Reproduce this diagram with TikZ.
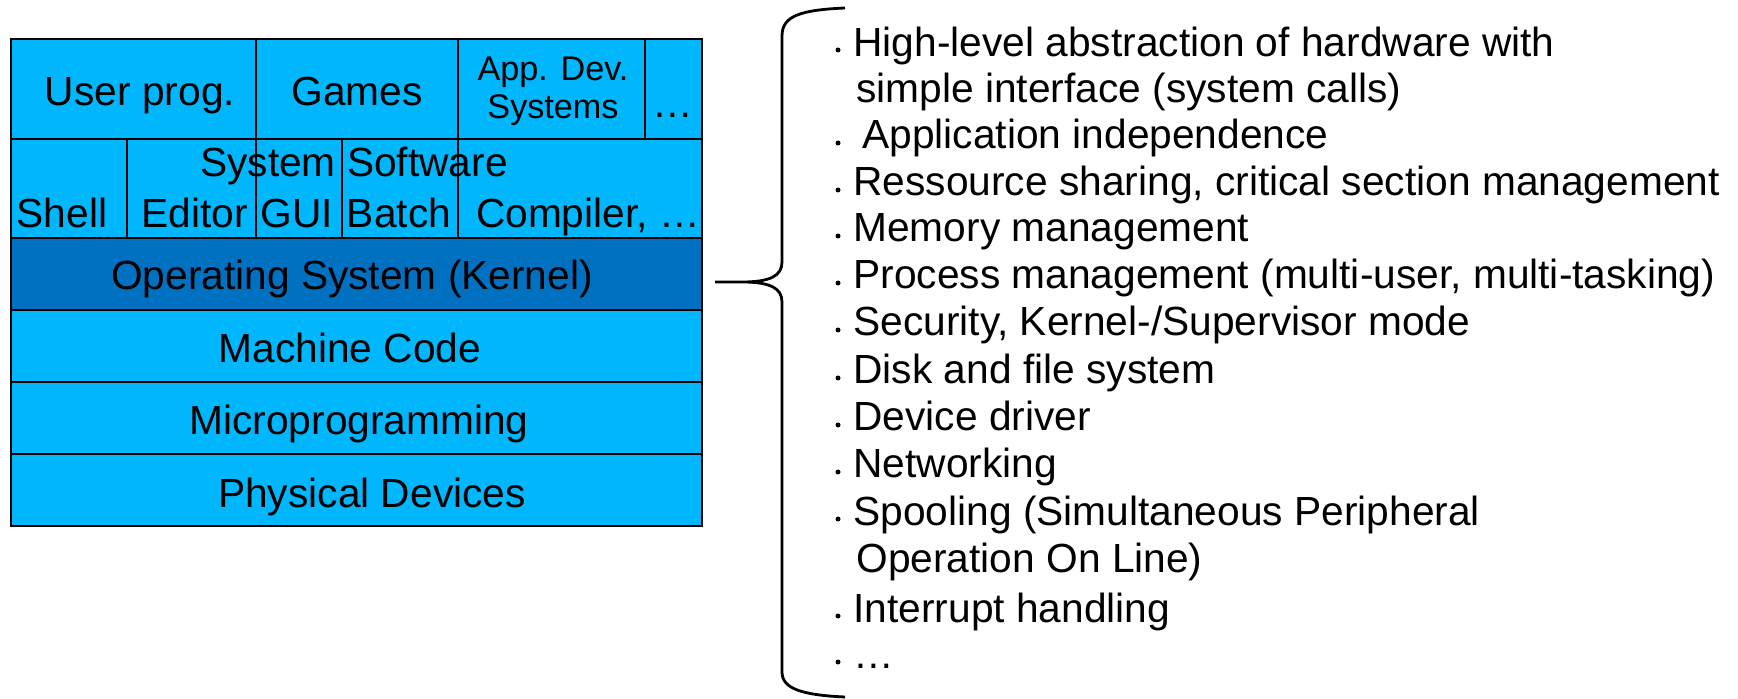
\documentclass[tikz,border=0pt]{standalone}
\usepackage{fontspec}
\setmainfont{Liberation Sans}
\definecolor{lightblu}{RGB}{0,182,252}
\definecolor{darkblu}{RGB}{0,112,192}
\begin{document}
\begin{tikzpicture}[x=0.5pt,y=-0.5pt,
  cell/.style={draw=black, line width=1.3pt, fill=lightblu},
  kcell/.style={draw=black, line width=1.3pt, fill=darkblu},
  lbl/.style={anchor=base, inner sep=0pt, font=\fontsize{20.35}{24}\selectfont},
  slbl/.style={anchor=base, inner sep=0pt, font=\fontsize{17.1}{20}\selectfont},
  item/.style={anchor=base west, inner sep=0pt, font=\fontsize{20.35}{24}\selectfont},
  dot/.style={circle, fill=black, inner sep=0pt, minimum size=2.5pt},
  bracepath/.style={draw=black, line width=1.4pt}]
\useasboundingbox (0,0) rectangle (1738,699);
% row 1
\path[cell] (11,39) rectangle (256,139);
\path[cell] (256,39) rectangle (458,139);
\path[cell] (458,39) rectangle (645,139);
\path[cell] (645,39) rectangle (702,139);
% row 2
\path[cell] (11,139) rectangle (127,238);
\path[cell] (127,139) rectangle (256,238);
\path[cell] (256,139) rectangle (342,238);
\path[cell] (342,139) rectangle (458,238);
\path[cell] (458,139) rectangle (702,238);
% lower rows
\path[kcell] (11,238) rectangle (702,310);
\path[cell] (11,310) rectangle (702,382);
\path[cell] (11,382) rectangle (702,454);
\path[cell] (11,454) rectangle (702,526);
% labels
\node[lbl] (user) at (140,106) {User prog.};
\node[lbl] (games) at (357,106) {Games};
\node[slbl] (appdev) at (553,81) {App. Dev.};
\node[slbl] (appsys) at (553,119) {Systems};
\node[lbl] (more) at (673,118) {…};
\node[lbl] (syssw) at (354,177) {System Software};
\node[lbl] (shell) at (62,228) {Shell};
\node[lbl] (editor) at (195,228) {Editor};
\node[lbl] (gui) at (297,228) {GUI};
\node[lbl] (batch) at (399,228) {Batch};
\node[lbl] (comp) at (588,228) {Compiler, …};
\node[lbl] (kernel) at (352,290) {Operating System (Kernel)};
\node[lbl] (mcode) at (350,363) {Machine Code};
\node[lbl] (micro) at (359,435) {Microprogramming};
\node[lbl] (phys) at (372,507) {Physical Devices};
% brace
\coordinate (btop) at (845,8);
\coordinate (btip) at (715,282);
\coordinate (bbot) at (845,697);
\path[bracepath] (btop) .. controls (800,10) and (782,16) .. (782,36) -- (782,262)
  .. controls (782,276) and (770,282) .. (742,282) -- (btip) -- (742,282)
  .. controls (770,282) and (782,288) .. (782,302) -- (782,672)
  .. controls (782,688) and (800,695) .. (bbot);
% list
\node[dot] (d1) at (838,50) {};
\node[item] (t1) at (853,57) {High-level abstraction of hardware with};
\node[item] (t1b) at (856,103) {simple interface (system calls)};
\node[dot] (d2) at (838,143) {};
\node[item] (t2) at (862,149) {Application independence};
\node[dot] (d3) at (838,190) {};
\node[item] (t3) at (853,196) {Ressource sharing, critical section management};
\node[dot] (d4) at (838,236) {};
\node[item] (t4) at (853,242) {Memory management};
\node[dot] (d5) at (838,283) {};
\node[item] (t5) at (853,289) {Process management (multi-user, multi-tasking)};
\node[dot] (d6) at (838,330) {};
\node[item] (t6) at (853,336) {Security, Kernel-/Supervisor mode};
\node[dot] (d7) at (838,378) {};
\node[item] (t7) at (853,384) {Disk and file system};
\node[dot] (d8) at (838,425) {};
\node[item] (t8) at (853,431) {Device driver};
\node[dot] (d9) at (838,472) {};
\node[item] (t9) at (853,478) {Networking};
\node[dot] (d10) at (838,519) {};
\node[item] (t10) at (853,525) {Spooling (Simultaneous Peripheral};
\node[item] (t10b) at (856,572) {Operation On Line)};
\node[dot] (d11) at (838,616) {};
\node[item] (t11) at (853,622) {Interrupt handling};
\node[dot] (d12) at (838,662) {};
\node[item] (t12) at (853,668) {…};
\end{tikzpicture}
\end{document}
